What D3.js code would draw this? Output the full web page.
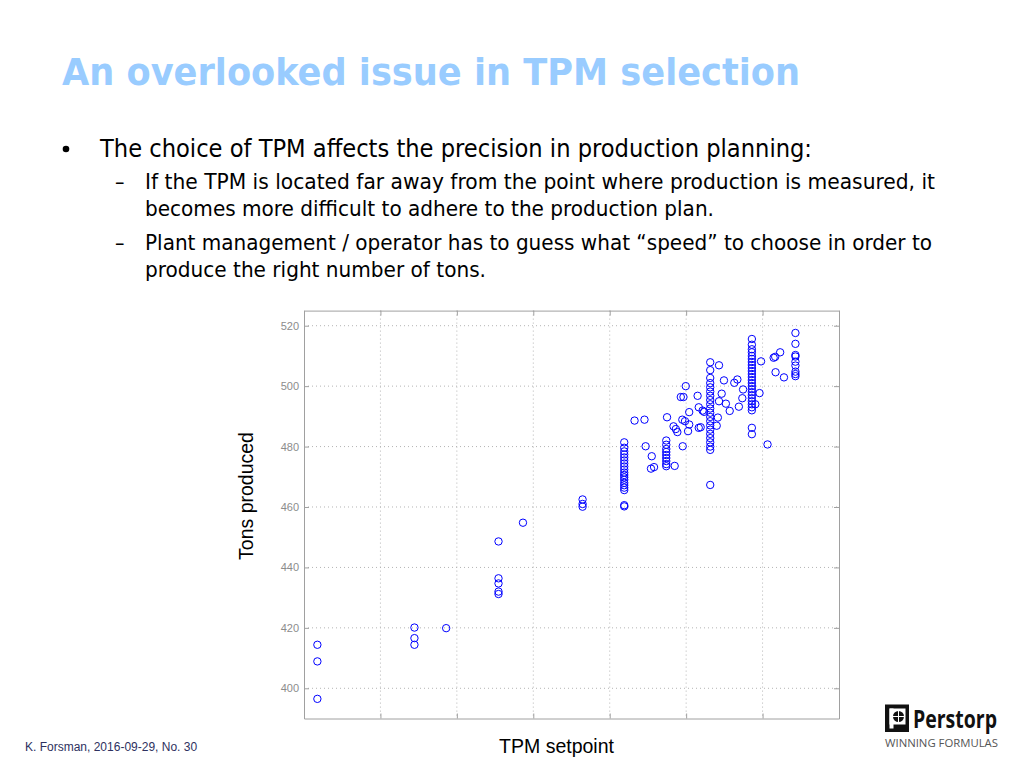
<!DOCTYPE html>
<html>
<head>
<meta charset="utf-8">
<script src="https://cdn.jsdelivr.net/npm/d3@7"></script>
<style>
  html, body { margin: 0; padding: 0; background: #ffffff; }
  svg { display: block; }
</style>
</head>
<body>
<svg id="slide" width="1024" height="768"></svg>
<script>
// ---------- data ----------
const titleText = "An overlooked issue in TPM selection";
const bulletText = "The choice of TPM affects the precision in production planning:";
const subLines = [
  "If the TPM is located far away from the point where production is measured, it",
  "becomes more difficult to adhere to the production plan.",
  "Plant management / operator has to guess what \u201cspeed\u201d to choose in order to",
  "produce the right number of tons."
];
const yLabel = "Tons produced";
const xLabel = "TPM setpoint";
const footerText = "K. Forsman, 2016-09-29, No. 30";

const xTicks = [390, 410, 430, 450, 470, 490, 510, 530];
const yTicks = [400, 420, 440, 460, 480, 500, 520];

// TPM setpoint (x) and tons produced (y)
const tpmSetpoint = [
  393.5, 393.5, 393.5,
  418.9, 418.9, 418.9,
  427.2,
  440.9, 440.9, 440.9, 440.9, 440.9,
  447.3,
  462.9, 462.9, 462.9,
  473.8, 473.8, 473.8, 473.8, 473.8, 473.8, 473.8, 473.8, 473.8, 473.8,
  473.8, 473.8, 473.8, 473.8, 473.8, 473.8, 473.8, 473.8, 473.8,
  476.5, 479.1, 479.4, 481.0, 480.8, 481.6, 485.0,
  484.8, 484.8, 484.8, 484.8, 484.8, 484.8, 484.8, 484.8, 484.8,
  487.0, 489.1, 486.7, 487.3, 487.7, 489.0, 489.7, 488.6, 489.3, 489.9,
  490.8, 490.8, 490.5, 493.0, 493.3, 493.3, 493.8, 494.3, 494.7,
  496.3, 496.3, 496.3, 496.3, 496.3, 496.3, 496.3, 496.3, 496.3, 496.3,
  496.3, 496.3, 496.3, 496.3, 496.3, 496.3, 496.3, 496.3, 496.3, 496.3, 496.3,
  498.6, 499.9, 499.3, 498.6, 500.4, 501.4, 498.3, 498.0, 502.6, 503.4,
  504.9, 504.7, 503.8,
  507.2, 507.2, 507.2, 507.2, 507.2, 507.2, 507.2, 507.2, 507.2, 507.2,
  507.2, 507.2, 507.2, 507.2, 507.2, 507.2, 507.2, 507.2, 507.2, 507.2,
  507.2, 507.2, 507.2, 507.2, 507.2,
  509.6, 509.2, 508.1, 511.3, 512.9, 513.3, 514.6, 513.4, 515.6,
  518.6, 518.6, 518.6, 518.6, 518.6, 518.6, 518.6, 518.6, 518.6
];
const tonsProduced = [
  414.4, 408.9, 396.5,
  420.1, 416.6, 414.4,
  419.9,
  448.6, 436.4, 434.7, 432.0, 431.2,
  454.8,
  462.5, 461.0, 460.1,
  481.4, 479.6, 478.4, 477.4, 476.4, 475.4, 474.4, 473.4, 472.4, 471.4,
  470.6, 469.8, 469.0, 468.0, 467.2, 466.4, 465.6, 460.6, 460.2,
  488.6, 488.9, 480.1, 476.8, 472.7, 473.2, 489.7,
  482.0, 480.6, 479.2, 478.2, 477.2, 476.2, 475.2, 474.2, 473.5,
  473.6, 480.1, 486.7, 485.8, 484.8, 488.9, 488.4, 496.4, 496.4, 500.0,
  491.4, 487.3, 485.1, 496.8, 493.0, 486.2, 486.4, 491.9, 491.5,
  507.9, 505.3, 502.7, 501.0, 499.6, 498.2, 496.8, 495.4, 494.0, 492.6,
  491.2, 489.8, 488.4, 487.0, 485.6, 484.2, 482.8, 481.4, 480.0, 478.9, 467.3,
  506.9, 501.9, 497.5, 495.0, 494.2, 491.8, 489.6, 486.9, 501.1, 502.2,
  498.9, 496.0, 493.2,
  515.6, 513.7, 512.2, 511.2, 510.0, 509.0, 508.0, 507.0, 506.0, 505.0,
  504.0, 503.0, 502.0, 501.0, 500.0, 499.0, 498.0, 497.0, 496.0, 495.0,
  494.0, 493.0, 492.0, 486.2, 484.1,
  508.2, 497.7, 494.0, 480.7, 509.4, 509.7, 511.2, 504.6, 502.9,
  517.6, 514.0, 510.3, 509.8, 508.1, 506.8, 504.8, 504.0, 503.3
];

// ---------- layout ----------
const svg = d3.select("#slide");
const plot = { left: 304, right: 839, top: 310.6, bottom: 718.5 };

const x = d3.scaleLinear().domain([390, 530]).range([plot.left, plot.right]);
const y = d3.scaleLinear().domain([390, 525]).range([plot.bottom, plot.top]);

// ---------- title and bullets ----------
svg.append("text")
  .attr("x", 62).attr("y", 85)
  .attr("font-family", "'DejaVu Sans Condensed', 'DejaVu Sans', sans-serif")
  .attr("font-weight", "bold")
  .attr("font-size", 38)
  .attr("fill", "#99ccff")
  .attr("textLength", 738)
  .attr("lengthAdjust", "spacingAndGlyphs")
  .text(titleText);

const bodyFont = "'DejaVu Sans Condensed', 'Liberation Sans Narrow', 'DejaVu Sans', sans-serif";

svg.append("circle").attr("cx", 66).attr("cy", 149).attr("r", 3.3).attr("fill", "#000");
svg.append("text")
  .attr("x", 100).attr("y", 157)
  .attr("font-family", bodyFont).attr("font-size", 25).attr("fill", "#000")
  .attr("textLength", 712).attr("lengthAdjust", "spacingAndGlyphs")
  .text(bulletText);

const subY = [188.5, 216, 249.5, 277];
const subW = [790, 569, 787, 341];
const subDash = [true, false, true, false];
subLines.forEach((s, i) => {
  if (subDash[i]) {
    svg.append("text")
      .attr("x", 115).attr("y", subY[i])
      .attr("font-family", bodyFont).attr("font-size", 21).attr("fill", "#000")
      .text("\u2013");
  }
  svg.append("text")
    .attr("x", 145).attr("y", subY[i])
    .attr("font-family", bodyFont).attr("font-size", 21).attr("fill", "#000")
    .attr("textLength", subW[i]).attr("lengthAdjust", "spacingAndGlyphs")
    .text(s);
});

// ---------- plot ----------
const g = svg.append("g");

// grid
g.append("g").selectAll("line").data(xTicks.slice(1, -1)).join("line")
  .attr("x1", d => x(d)).attr("x2", d => x(d))
  .attr("y1", plot.top).attr("y2", plot.bottom)
  .attr("stroke", "#b4b4b4").attr("stroke-width", 1)
  .attr("stroke-dasharray", "1,3");
g.append("g").selectAll("line").data(yTicks).join("line")
  .attr("x1", plot.left).attr("x2", plot.right)
  .attr("y1", d => y(d)).attr("y2", d => y(d))
  .attr("stroke", "#b4b4b4").attr("stroke-width", 1)
  .attr("stroke-dasharray", "1,3");

// axes (ticks inward, MATLAB style)
const axisStyle = sel => {
  sel.select(".domain").attr("stroke", "#a0a0a0");
  sel.selectAll(".tick line").attr("stroke", "#a0a0a0");
  sel.selectAll(".tick text").attr("fill", "#8c8c8c")
    .attr("font-family", "'Liberation Sans', Arial, sans-serif").attr("font-size", 11);
};
g.append("g").attr("transform", `translate(${plot.left},0)`)
  .call(d3.axisLeft(y).tickValues(yTicks).tickSize(-5).tickPadding(5).tickSizeOuter(0))
  .call(axisStyle);
g.append("g").attr("transform", `translate(${plot.right},0)`)
  .call(d3.axisRight(y).tickValues(yTicks).tickSize(-5).tickFormat("").tickSizeOuter(0))
  .call(axisStyle);
g.append("g").attr("transform", `translate(0,${plot.bottom})`)
  .call(d3.axisBottom(x).tickValues(xTicks).tickSize(-5).tickFormat("").tickSizeOuter(0))
  .call(axisStyle);
g.append("g").attr("transform", `translate(0,${plot.top})`)
  .call(d3.axisTop(x).tickValues(xTicks).tickSize(-5).tickFormat("").tickSizeOuter(0))
  .call(axisStyle);

// points
g.append("g").selectAll("circle").data(d3.range(tpmSetpoint.length)).join("circle")
  .attr("cx", i => x(tpmSetpoint[i]))
  .attr("cy", i => y(tonsProduced[i]))
  .attr("r", 3.7)
  .attr("fill", "none")
  .attr("stroke", "#0000ff")
  .attr("stroke-width", 1);

// axis labels
svg.append("text")
  .attr("transform", "translate(253,496) rotate(-90)")
  .attr("text-anchor", "middle")
  .attr("font-family", "'Liberation Sans', Arial, sans-serif")
  .attr("font-size", 19.5).attr("fill", "#000")
  .text(yLabel);
svg.append("text")
  .attr("x", 556.5).attr("y", 753)
  .attr("text-anchor", "middle")
  .attr("font-family", "'Liberation Sans', Arial, sans-serif")
  .attr("font-size", 19.5).attr("fill", "#000")
  .text(xLabel);

// footer
svg.append("text")
  .attr("x", 25).attr("y", 751)
  .attr("font-family", "'Liberation Sans', Arial, sans-serif")
  .attr("font-size", 12).attr("fill", "#2e3160")
  .text(footerText);

// logo
const logo = svg.append("g");
logo.append("rect").attr("x", 885).attr("y", 704.5).attr("width", 24).attr("height", 27.5).attr("fill", "#111");
logo.append("rect").attr("x", 889.5).attr("y", 708.5).attr("width", 16).attr("height", 16).attr("fill", "#fff");
logo.append("rect").attr("x", 889.5).attr("y", 708.5).attr("width", 4).attr("height", 20).attr("fill", "#fff");
logo.append("circle").attr("cx", 898.5).attr("cy", 716.5).attr("r", 5.5).attr("fill", "#111");
logo.append("line").attr("x1", 893).attr("x2", 904).attr("y1", 716.5).attr("y2", 716.5).attr("stroke", "#fff").attr("stroke-width", 1);
logo.append("line").attr("x1", 898.5).attr("x2", 898.5).attr("y1", 711).attr("y2", 722).attr("stroke", "#fff").attr("stroke-width", 1);
logo.append("text")
  .attr("x", 913).attr("y", 727.5)
  .attr("font-family", "'Open Sans', 'DejaVu Sans', sans-serif")
  .attr("font-weight", "bold").attr("font-size", 25).attr("fill", "#111")
  .attr("textLength", 84).attr("lengthAdjust", "spacingAndGlyphs")
  .text("Perstorp");
logo.append("text")
  .attr("x", 885).attr("y", 746.5)
  .attr("font-family", "'Open Sans', 'DejaVu Sans', sans-serif")
  .attr("font-size", 10).attr("fill", "#555")
  .attr("textLength", 113).attr("lengthAdjust", "spacingAndGlyphs")
  .text("WINNING FORMULAS");
</script>
</body>
</html>
